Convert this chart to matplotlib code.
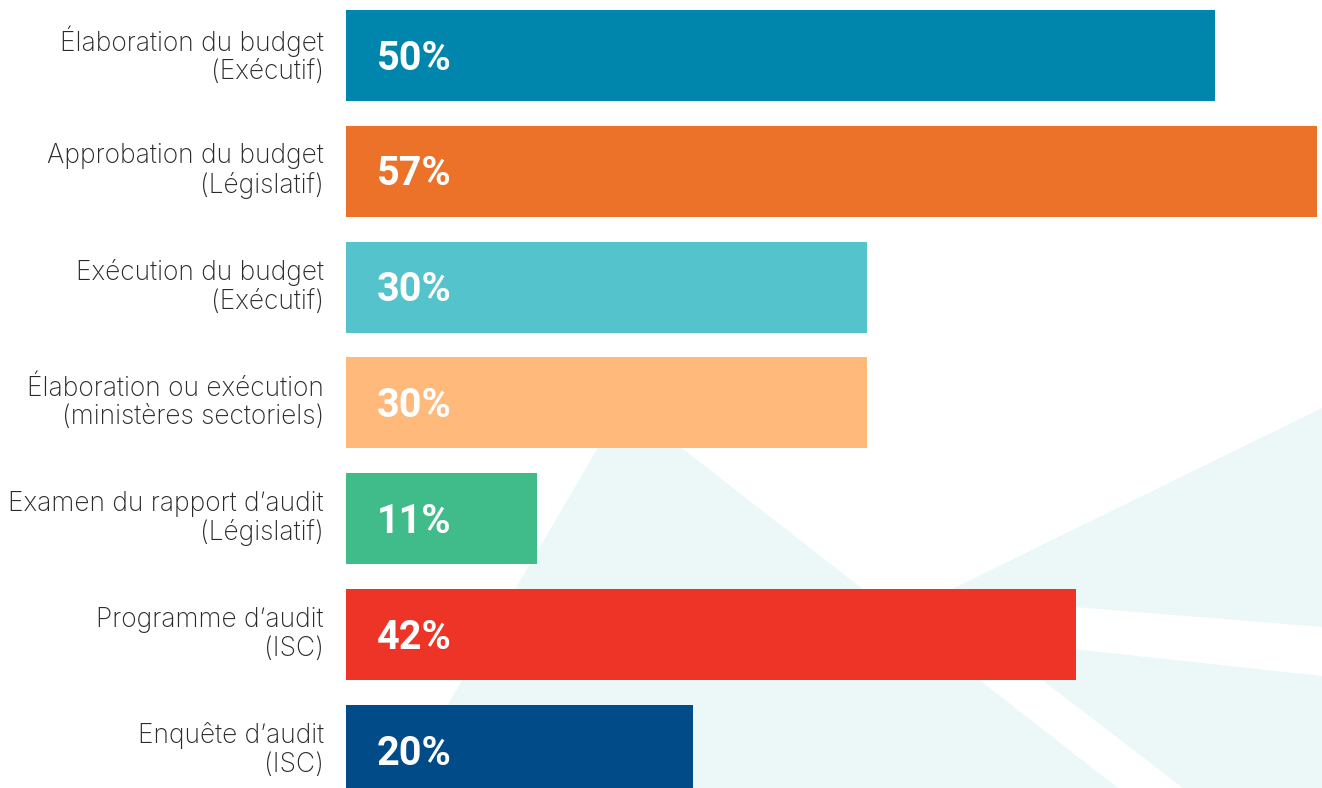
import matplotlib
matplotlib.use("Agg")
import matplotlib.pyplot as plt
import matplotlib.transforms as mtransforms
from matplotlib.patches import Polygon

# Chart data
categories = [
    "Élaboration du budget\n(Exécutif)",
    "Approbation du budget\n(Législatif)",
    "Exécution du budget\n(Exécutif)",
    "Élaboration ou exécution\n(ministères sectoriels)",
    "Examen du rapport d’audit\n(Législatif)",
    "Programme d’audit\n(ISC)",
    "Enquête d’audit\n(ISC)",
]
values = [50, 57, 30, 30, 11, 42, 20]
bar_colors = ["#0086AD", "#EC7229", "#55C3CB", "#FFBA7B", "#40BB8A", "#EE3427", "#004B88"]

W, H = 1322, 788
fig = plt.figure(figsize=(W / 100, H / 100), dpi=100)

# decorative background shapes (pixel coordinates of the figure)
bg = fig.add_axes([0, 0, 1, 1], zorder=0)
bg.set_xlim(0, W)
bg.set_ylim(H, 0)
bg.axis("off")
shape_color = "#ECF8F8"
shapes = [
    [(624, 403), (1118, 788), (399, 788)],
    [(950, 590), (1322, 408), (1322, 627), (1000, 601)],
    [(990, 640), (1322, 676), (1322, 788), (1183, 788)],
]
for pts in shapes:
    bg.add_patch(Polygon(pts, closed=True, facecolor=shape_color, edgecolor="none"))

# main bar axes
ax = fig.add_axes([346 / W, 0, (1317 - 346) / W, 1], zorder=1)
ax.patch.set_alpha(0)
y = list(range(len(categories)))
ax.barh(y, values, height=0.786, color=bar_colors)
ax.set_xlim(0, 971 / 17.37)
ax.set_ylim(6.324, -0.479)

for yi, v in zip(y, values):
    ax.annotate(f"{v}%", xy=(0, yi), xytext=(31 * 0.72, -2.2), textcoords="offset points",
                ha="left", va="center", color="white", fontsize=28.5,
                fontweight="bold", family="Roboto")

ax.set_yticks(y)
ax.set_yticklabels(categories, fontsize=19, color="#2a2a2a", family="Inter",
                   fontweight="light", linespacing=1.12)
ax.tick_params(axis="y", length=0, pad=16)
# nudge the category labels up a little
shift = mtransforms.ScaledTranslation(0, 4.5 / 100, fig.dpi_scale_trans)
for lab in ax.get_yticklabels():
    lab.set_transform(lab.get_transform() + shift)
ax.set_xticks([])
for s in ax.spines.values():
    s.set_visible(False)

fig.savefig("out.png", dpi=100)
